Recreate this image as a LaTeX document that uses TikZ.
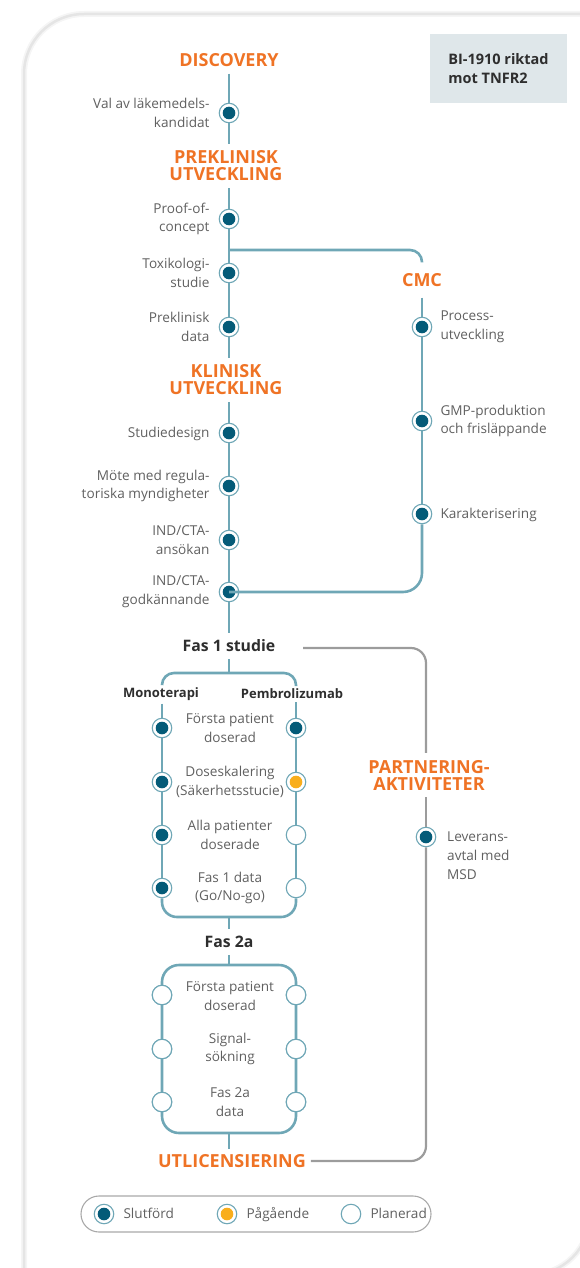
\documentclass[tikz,border=0pt]{standalone}
\usepackage{fontspec}
\setmainfont{Open Sans}
\usetikzlibrary{positioning}
\definecolor{trackcol}{HTML}{6FA7B6}
\definecolor{dotcol}{HTML}{045B78}
\definecolor{ongoingcol}{HTML}{F9AE1C}
\definecolor{phasecol}{HTML}{EF7325}
\definecolor{partcol}{HTML}{9C9C9C}
\definecolor{bodytext}{HTML}{606060}
\definecolor{darktext}{HTML}{2E2E2E}
\definecolor{infofill}{HTML}{DFE7EA}
\definecolor{legendline}{HTML}{A9A9A9}
\tikzset{
  track/.style={draw=trackcol, line width=2.6pt},
  partline/.style={draw=partcol, line width=2.2pt},
  cardedge/.style={line width=2.5pt, black!10, rounded corners=60pt},
  cardshade/.style={line width=6pt, black!4, rounded corners=60pt},
  dot/.style={circle, draw=trackcol, line width=1.1pt, fill=white, minimum size=19.5pt, inner sep=0pt},
  done/.style={dot, path picture={\fill[dotcol] (path picture bounding box.center) circle (6.3pt);}},
  ongoing/.style={dot, path picture={\fill[ongoingcol] (path picture bounding box.center) circle (6.3pt);}},
  planned/.style={dot},
  phase/.style={font=\bfseries\fontsize{18}{17}\selectfont, text=phasecol, align=center, inner sep=0pt, outer sep=7pt},
  stage/.style={font=\bfseries\fontsize{15.8}{17}\selectfont, text=darktext, inner sep=0pt, outer sep=7pt},
  arm/.style={font=\bfseries\fontsize{13}{14}\selectfont, text=darktext, inner sep=0pt, outer sep=3pt},
  desc/.style={font=\fontsize{13.6}{18.8}\selectfont, text=bodytext, inner sep=0pt},
  oneline/.style={text height=9.6pt, text depth=0pt},
  infobox/.style={font=\bfseries\fontsize{14.5}{19}\selectfont, text=darktext, fill=infofill, align=left, minimum width=137pt, minimum height=69pt},
  legendbox/.style={draw=legendline, line width=1.1pt, rounded corners=18pt, minimum width=350pt, minimum height=36pt}
}
\begin{document}
\begin{tikzpicture}[x=1pt, y=-1pt]
\useasboundingbox (0,0) rectangle (580,1268);
\clip (0,0) rectangle (580,1268);
\draw[cardshade] (24,1340) -- (24,14) -- (660,14);
\draw[cardshade] (590,1100) -- (590,1275) -- (400,1275);
\draw[cardedge] (24,1340) -- (24,14) -- (660,14);
\draw[cardedge] (590,1100) -- (590,1275) -- (400,1275);

\node[infobox] (info) at (498.5,68.5) {BI-1910 riktad\\mot TNFR2};

\node[phase] (disc) at (229,60) {DISCOVERY};
\node[done] (d1) at (229,113) {};
\node[desc, align=right, left=9pt of d1] (t1) {Val av läkemedels-\\kandidat};
\node[phase] (prek) at (226,166) {PREKLINISK\\UTVECKLING};
\node[done] (d2) at (229,219) {};
\node[desc, align=right, left=9pt of d2] (t2) {Proof-of-\\concept};
\coordinate (br) at (229,250);
\node[done] (d3) at (229,273) {};
\node[desc, align=right, left=9pt of d3] (t3) {Toxikologi-\\studie};
\node[done] (d4) at (229,327) {};
\node[desc, align=right, left=9pt of d4] (t4) {Preklinisk\\data};
\node[phase] (klin) at (226,380) {KLINISK\\UTVECKLING};
\node[done] (d5) at (229,433) {};
\node[desc, oneline, left=9pt of d5] (t5) {Studiedesign};
\node[done] (d6) at (229,486) {};
\node[desc, align=right, left=9pt of d6] (t6) {Möte med regula-\\toriska myndigheter};
\node[done] (d7) at (229,540) {};
\node[desc, align=right, left=9pt of d7] (t7) {IND/CTA-\\ansökan};
\node[done] (d8) at (229,592) {};
\node[desc, align=right, left=9pt of d8] (t8) {IND/CTA-\\godkännande};

\node[phase, outer sep=11pt] (cmc) at (422,280) {CMC};
\node[done] (c1) at (422,327) {};
\node[desc, align=left, right=8pt of c1] (t9) {Process-\\utveckling};
\node[done] (c2) at (422,421) {};
\node[desc, align=left, right=8pt of c2] (t10) {GMP-produktion\\och frisläppande};
\node[done] (c3) at (422,514) {};
\node[desc, oneline, right=8pt of c3] (t11) {Karakterisering};

\node[stage] (fas1) at (229,646) {Fas 1 studie};
\coordinate (pstart) at (303,648);
\node[phase] (partner) at (429,775) {PARTNERING-\\AKTIVITETER};
\node[done] (p1) at (426,837) {};
\node[desc, align=left, anchor=north west] (t12) at (447,832) {Leverans-\\avtal med\\MSD};

\coordinate (b1top) at (229,673);
\coordinate (b1bot) at (229,917);
\node[arm] (mono) at (161,694) {Monoterapi};
\node[arm] (pembro) at (292,694) {Pembrolizumab};
\node[done] (m1) at (162,728) {};
\node[done] (m2) at (162,782) {};
\node[done] (m3) at (162,835) {};
\node[done] (m4) at (162,888) {};
\node[done] (q1) at (296,728) {};
\node[ongoing] (q2) at (296,782) {};
\node[planned] (q3) at (296,835) {};
\node[planned] (q4) at (296,888) {};
\node[desc, align=center] (t13) at (230,728) {Första patient\\doserad};
\node[desc, align=center] (t14) at (230,782) {Doseskalering\\(Säkerhetsstucie)};
\node[desc, align=center] (t15) at (230,835) {Alla patienter\\doserade};
\node[desc, align=center] (t16) at (230,888) {Fas 1 data\\(Go/No-go)};

\node[stage] (fas2) at (229,942) {Fas 2a};
\coordinate (b2top) at (229,965);
\coordinate (b2bot) at (229,1133);
\coordinate (b2nw) at (162,965);
\coordinate (b2se) at (296,1133);
\node[planned] (s1) at (162,995) {};
\node[planned] (s2) at (162,1049) {};
\node[planned] (s3) at (162,1102) {};
\node[planned] (r1) at (296,995) {};
\node[planned] (r2) at (296,1049) {};
\node[planned] (r3) at (296,1102) {};
\node[desc, align=center] (t17) at (230,996) {Första patient\\doserad};
\node[desc, align=center] (t18) at (230,1049) {Signal-\\sökning};
\node[desc, align=center] (t19) at (230,1102) {Fas 2a\\data};
\node[phase, outer sep=5pt] (utl) at (232,1161) {UTLICENSIERING};

\node[legendbox] (legend) at (256,1214) {};
\node[done] (l1) at (104,1214) {};
\node[desc, oneline, right=9pt of l1] (t20) {Slutförd};
\node[ongoing] (l2) at (227,1214) {};
\node[desc, oneline, right=9pt of l2] (t21) {Pågående};
\node[planned] (l3) at (351,1214) {};
\node[desc, oneline, right=9pt of l3] (t22) {Planerad};

\draw[track] (d1 |- disc.south) -- (d1) -- (d1 |- prek.north);
\draw[track] (d2 |- prek.south) -- (d2) -- (d3) -- (d4) -- (d4 |- klin.north);
\draw[track] (d5 |- klin.south) -- (d5) -- (d6) -- (d7) -- (d8) -- (fas1);
\draw[track, rounded corners=12pt] (br) -| (cmc);
\draw[track] (cmc) -- (c1) -- (c2) -- (c3);
\draw[track, rounded corners=19pt] (c3) |- (d8.center);

\draw[partline, rounded corners=15pt] (pstart) -| (p1 |- partner.north);
\draw[partline] (p1 |- partner.south) -- (p1);
\draw[partline, rounded corners=15pt] (p1) |- (utl);

\draw[track] (fas1) -- (b1top);
\draw[track, rounded corners=12pt] (m1 |- mono.north) -- (m1 |- b1top) -- (q1 |- b1top) -- (q1 |- pembro.north);
\draw[track] (m1 |- mono.south) -- (m1) -- (m2) -- (m3) -- (m4);
\draw[track] (q1 |- pembro.south) -- (q1) -- (q2) -- (q3) -- (q4);
\draw[track, rounded corners=15pt] (m4) -- (m4 |- b1bot) -- (q4 |- b1bot) -- (q4);
\draw[track] (b1bot) -- (fas2);

\draw[track] (fas2) -- (b2top);
\draw[track, rounded corners=17pt] (b2nw) rectangle (b2se);
\draw[track] (b2bot) -- (b2bot |- utl.north);
\foreach \n in {s1,s2,s3,r1,r2,r3}
  \node[planned] at (\n) {};
\end{tikzpicture}
\end{document}
